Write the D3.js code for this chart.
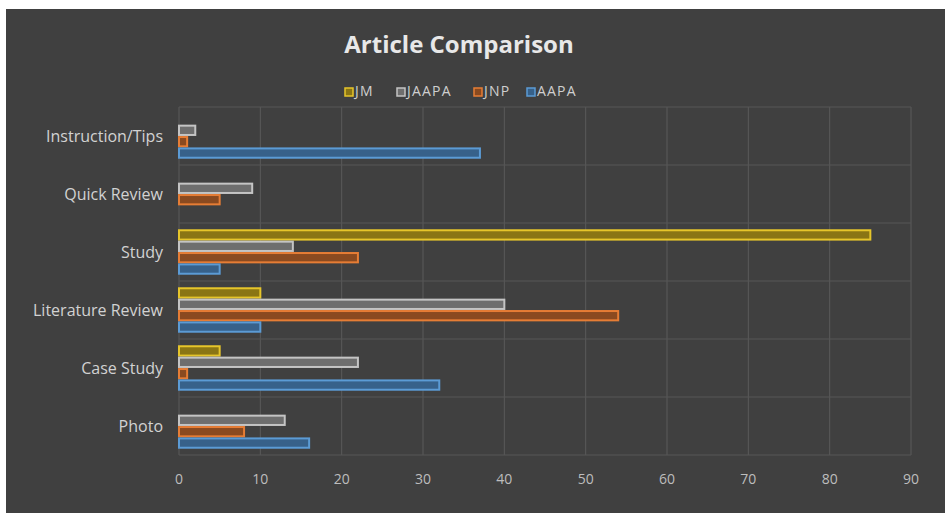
<html><head>
  <script src="https://d3js.org/d3.v7.min.js"></script>
  <style>
    body { margin:0; background:white; }
    text { font-family: "Open Sans", Lato, sans-serif; }
  </style>
</head>
<body>
  <svg id="chart" width="945" height="517"></svg>
  <script>
    // data
    const categories = ["Instruction/Tips","Quick Review","Study","Literature Review","Case Study","Photo"];
    const series = ["JM","JAAPA","JNP","AAPA"];
    const JM    = [0, 0, 85, 10, 5, 0];
    const JAAPA = [2, 9, 14, 40, 22, 13];
    const JNP   = [1, 5, 22, 54, 1, 8];
    const AAPA  = [37, 0, 5, 10, 32, 16];
    const xTicks = [0,10,20,30,40,50,60,70,80,90];

    const values = {"JM":JM, "JAAPA":JAAPA, "JNP":JNP, "AAPA":AAPA};
    const stroke = {"JM":"#e6c52a", "JAAPA":"#c4c4c4", "JNP":"#e67d35", "AAPA":"#5b9bd5"};
    const fill   = {"JM":"#8a7514", "JAAPA":"#6e6e6e", "JNP":"#8a4a20", "AAPA":"#37618a"};

    let svg = d3.select("svg#chart");

    svg.append("rect")
       .attr("x",6).attr("y",9)
       .attr("width",939).attr("height",504)
       .attr("fill","#404040");

    let x = d3.scaleLinear().domain([0,90]).range([179,911]);
    let y0 = d3.scaleBand().domain(categories).range([107,455])
               .paddingInner(0.18).paddingOuter(0.09);
    let y1 = d3.scaleBand().domain(series).range([0,y0.bandwidth()]).padding(0.18);

    // vertical grid
    xTicks.forEach(t => {
      svg.append("line")
         .attr("x1",x(t)).attr("x2",x(t))
         .attr("y1",107).attr("y2",455)
         .style("stroke","#5a5a5a")
         .style("stroke-width",1);
    });

    // horizontal lines at category boundaries
    const step = y0.step();
    d3.range(categories.length + 1).forEach(i => {
      let yy = 107 + i * step;
      svg.append("line")
         .attr("x1",x(0)).attr("x2",x(90))
         .attr("y1",yy).attr("y2",yy)
         .style("stroke","#565656")
         .style("stroke-width",1);
    });

    // bars
    series.forEach(s => {
      categories.forEach((c,i) => {
        let v = values[s][i];
        if (v <= 0) return;
        svg.append("rect")
           .attr("x",x(0))
           .attr("y",y0(c) + y1(s))
           .attr("width",x(v) - x(0))
           .attr("height",y1.bandwidth())
           .attr("fill",fill[s])
           .attr("stroke",stroke[s])
           .attr("stroke-width",2);
      });
    });

    // x tick labels
    xTicks.forEach(t => {
      svg.append("text")
         .text(t)
         .attr("x",x(t))
         .attr("y",484)
         .style("font-size","14px")
         .style("fill","#bdbdbd")
         .style("text-anchor","middle");
    });

    // category labels
    categories.forEach(c => {
      svg.append("text")
         .text(c)
         .attr("x",163)
         .attr("y",y0(c) + y0.bandwidth()/2 + 2)
         .style("font-size","16px")
         .style("fill","#d2d2d2")
         .style("text-anchor","end")
         .style("dominant-baseline","middle");
    });

    // title
    svg.append("text")
       .text("Article Comparison")
       .attr("x",459)
       .attr("y",53)
       .style("font-size","24px")
       .style("font-weight","bold")
       .style("fill","#e8e8e8")
       .style("text-anchor","middle");

    // legend
    const legendX = {"JM":345, "JAAPA":397, "JNP":474, "AAPA":527};
    series.forEach(s => {
      svg.append("rect")
         .attr("x",legendX[s]).attr("y",88)
         .attr("width",8).attr("height",8)
         .attr("fill",fill[s])
         .attr("stroke",stroke[s])
         .attr("stroke-width",1.5);
      svg.append("text")
         .text(s)
         .attr("x",legendX[s] + 10)
         .attr("y",92)
         .style("font-size","14px")
         .style("letter-spacing","1.2px")
         .style("fill","#cfcfcf")
         .style("dominant-baseline","middle");
    });
  </script>
</body>
</html>
